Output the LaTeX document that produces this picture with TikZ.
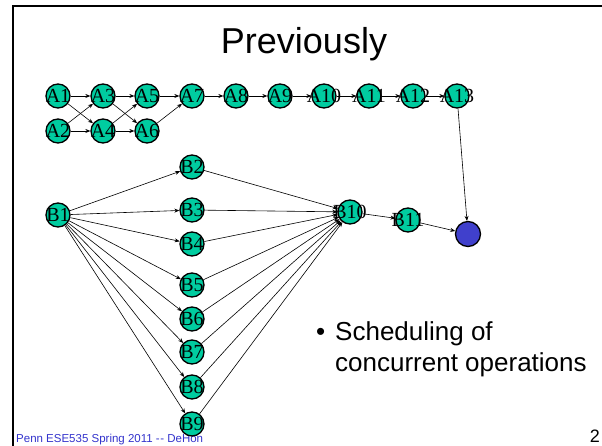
\documentclass[tikz,border=0pt]{standalone}
\usepackage{fontspec}
\setmainfont{Liberation Sans}
\newfontfamily\nodefont{Liberation Serif}
\usetikzlibrary{arrows.meta}
\definecolor{tealop}{RGB}{0,204,160}
\definecolor{blueop}{RGB}{64,64,204}
\definecolor{footblue}{RGB}{51,51,204}
\begin{document}
\begin{tikzpicture}[x=1pt,y=-1pt,
  op/.style={circle,draw=black,line width=1.3pt,fill=tealop,minimum size=24pt,inner sep=0pt},
  sink/.style={circle,draw=black,line width=1.3pt,fill=blueop,minimum size=25pt,inner sep=0pt},
  lab/.style={font=\nodefont\fontsize{20}{20}\selectfont,inner sep=0pt},
  arr/.style={-{Stealth[length=5pt,width=4pt]},line width=0.6pt}]
\useasboundingbox (0,0) rectangle (602,446);
\draw[line width=2pt] (13,446) -- (13,6) -- (602,6);
% footer
\node[anchor=base west,text=footblue,font=\fontsize{11.5}{13}\selectfont,inner sep=0pt] (foot) at (16,442) {Penn ESE535 Spring 2011 -\kern0.5pt-{} DeHon};
\node[anchor=base east,font=\fontsize{18}{20}\selectfont,inner sep=0pt] (pnum) at (600,442) {2};
% title
\node[anchor=base,font=\fontsize{36}{40}\selectfont,inner sep=0pt] (title) at (304,54) {Previously};
% bullet
\node[anchor=base west,font=\fontsize{26}{30}\selectfont,inner sep=0pt] (bul) at (316,340) {\textbullet};
\node[anchor=base west,font=\fontsize{26}{30}\selectfont,inner sep=0pt] (t1) at (335,340) {Scheduling of};
\node[anchor=base west,font=\fontsize{26}{30}\selectfont,inner sep=0pt] (t2) at (335,371) {concurrent operations};
% A and B nodes
\foreach \n/\x/\y in {A1/58/96,A2/58/131,A3/103/96,A4/103/131,A5/147/96,A6/147/131,
  A7/192/96,A8/236/96,A9/280/96,A10/324/96,A11/369/96,A12/413/96,A13/457/96,
  B1/58/215,B2/192/167,B3/192/210,B4/192/244,B5/192/285,B6/192/319,B7/192/352,B8/192/387,B9/192/424,
  B10/350/212,B11/408/220}
  {\node[op] (\n) at (\x,\y) {};}
\node[sink] (S) at (468,234) {};
% edges
\foreach \a/\b in {A1/A3,A1/A4,A2/A3,A2/A4,A3/A5,A3/A6,A4/A5,A4/A6,A5/A7,A6/A7,
  A7/A8,A8/A9,A9/A10,A10/A11,A11/A12,A12/A13,A13/S,
  B1/B2,B1/B3,B1/B4,B1/B5,B1/B6,B1/B7,B1/B8,B1/B9,
  B2/B10,B3/B10,B4/B10,B5/B10,B6/B10,B7/B10,B8/B10,B9/B10,B10/B11,B11/S}
  {\draw[arr] (\a) -- (\b);}
% labels
\foreach \n in {A1,A2,A3,A4,A5,A6,A7,A8,A9,A10,A11,A12,A13,B1,B2,B3,B4,B5,B6,B7,B8,B9,B10,B11}
  {\node[lab] (\n t) at (\n) {\n};}
\end{tikzpicture}
\end{document}
